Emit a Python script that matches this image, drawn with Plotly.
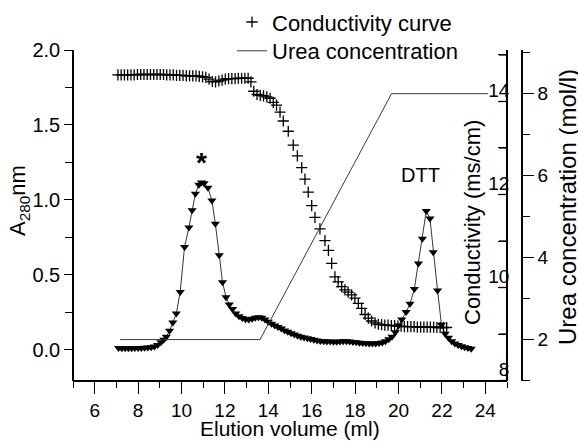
import plotly.graph_objects as go

# ---- A280 absorbance (elution profile) ----
a280_ml = [7.10, 7.25, 7.40, 7.55, 7.70, 7.85, 8.00, 8.15, 8.30, 8.45, 8.60, 8.75, 8.90,
           9.05, 9.18, 9.30, 9.45, 9.60, 9.76, 9.94, 10.14, 10.34, 10.49, 10.64, 10.80,
           10.92, 11.04, 11.22, 11.40, 11.56, 11.74, 11.89, 12.05, 12.20, 12.35, 12.50,
           12.65, 12.80, 12.95, 13.10, 13.25, 13.40, 13.55, 13.70, 13.85, 14.00, 14.15,
           14.30, 14.45, 14.60, 14.75, 14.90, 15.05, 15.20, 15.35, 15.50, 15.65, 15.80,
           15.95, 16.10, 16.25, 16.40, 16.55, 16.70, 16.85, 17.00, 17.15, 17.30, 17.45,
           17.60, 17.75, 17.90, 18.05, 18.20, 18.35, 18.50, 18.65, 18.80, 18.95, 19.10,
           19.25, 19.40, 19.55, 19.70, 19.85, 20.00, 20.15, 20.35, 20.53, 20.73, 20.92,
           21.10, 21.28, 21.45, 21.60, 21.80, 21.98, 22.15, 22.30, 22.45, 22.60, 22.75,
           22.90, 23.05, 23.20, 23.35]
a280_abs = [0.010, 0.008, 0.008, 0.008, 0.009, 0.010, 0.010, 0.011, 0.012, 0.013, 0.015,
            0.020, 0.030, 0.048, 0.065, 0.085, 0.125, 0.180, 0.240, 0.385, 0.685, 0.815,
            0.930, 1.040, 1.100, 1.115, 1.110, 1.080, 0.995, 0.840, 0.630, 0.450, 0.350,
            0.300, 0.270, 0.240, 0.222, 0.210, 0.203, 0.200, 0.205, 0.212, 0.216, 0.212,
            0.200, 0.185, 0.172, 0.160, 0.150, 0.140, 0.128, 0.118, 0.108, 0.100, 0.092,
            0.085, 0.080, 0.075, 0.070, 0.065, 0.060, 0.057, 0.055, 0.054, 0.053, 0.052,
            0.052, 0.053, 0.055, 0.055, 0.053, 0.050, 0.048, 0.046, 0.044, 0.042, 0.040,
            0.040, 0.041, 0.043, 0.047, 0.055, 0.068, 0.085, 0.115, 0.160, 0.200, 0.250,
            0.305, 0.405, 0.575, 0.740, 0.925, 0.875, 0.650, 0.395, 0.165, 0.105, 0.078,
            0.055, 0.040, 0.030, 0.022, 0.015, 0.010, 0.005]

# ---- Conductivity (ms/cm) ----
cond_ml = [7.07, 7.22, 7.37, 7.52, 7.67, 7.82, 7.97, 8.12, 8.27, 8.42, 8.57, 8.72, 8.87,
           9.02, 9.17, 9.32, 9.47, 9.62, 9.77, 9.92, 10.07, 10.22, 10.37, 10.52, 10.67,
           10.82, 10.97, 11.12, 11.27, 11.42, 11.57, 11.72, 11.87, 12.02, 12.17, 12.32,
           12.47, 12.62, 12.77, 12.92, 13.07, 13.20, 13.33, 13.48, 13.63, 13.78, 13.93,
           14.08, 14.23, 14.38, 14.54, 14.69, 14.92, 15.15, 15.34, 15.54, 15.69, 15.84,
           16.00, 16.15, 16.38, 16.61, 16.77, 16.92, 17.07, 17.22, 17.38, 17.53, 17.68,
           17.84, 17.99, 18.15, 18.30, 18.46, 18.61, 18.76, 18.92, 19.07, 19.22, 19.37,
           19.52, 19.67, 19.82, 19.97, 20.12, 20.27, 20.42, 20.57, 20.72, 20.87, 21.02,
           21.17, 21.32, 21.47, 21.62, 21.77, 21.92, 22.07, 22.22]
cond_val = [14.57, 14.57, 14.57, 14.57, 14.57, 14.57, 14.58, 14.58, 14.58, 14.58, 14.58,
            14.58, 14.58, 14.58, 14.58, 14.57, 14.57, 14.57, 14.56, 14.56, 14.56, 14.55,
            14.55, 14.55, 14.55, 14.54, 14.53, 14.52, 14.48, 14.43, 14.42, 14.44, 14.46,
            14.48, 14.49, 14.49, 14.49, 14.50, 14.50, 14.50, 14.50, 14.42, 14.22, 14.15,
            14.13, 14.12, 14.10, 14.07, 13.98, 13.92, 13.77, 13.58, 13.36, 13.06, 12.83,
            12.58, 12.33, 12.05, 11.76, 11.51, 11.26, 11.01, 10.80, 10.52, 10.23, 10.12,
            10.02, 9.95, 9.90, 9.84, 9.77, 9.66, 9.55, 9.42, 9.34, 9.28, 9.24, 9.21, 9.20,
            9.19, 9.19, 9.18, 9.18, 9.17, 9.17, 9.16, 9.16, 9.16, 9.16, 9.15, 9.15, 9.15,
            9.15, 9.15, 9.15, 9.14, 9.14, 9.14, 9.14]

# ---- Urea gradient (mol/l) ----
urea_ml = [7.17, 13.62, 19.68, 24.13]
urea_val = [2.0, 2.0, 8.0, 8.0]

# ---- axis ticks / labels ----
a280_ticks = [0.0, 0.5, 1.0, 1.5, 2.0]
vol_ticks = [6, 8, 10, 12, 14, 16, 18, 20, 22, 24]
cond_ticks = [8, 9, 10, 11, 12, 13, 14, 15]
cond_labels = ["8", "", "10", "", "12", "", "14", ""]
urea_ticks = [2, 4, 6, 8]

FONT = "Liberation Sans, Arial, sans-serif"
BLACK = "#000000"
PLOT_W = 449                 # paper width in px (73..522)
X_DOMAIN_END = 434 / PLOT_W  # plot frame ends at 507 px, urea axis at 522 px
COND_TICKLEN = 8
X_RANGE = [5, 25]
Y_RANGE = [-0.21, 2.0]

fig = go.Figure()

fig.add_trace(go.Scatter(
    x=urea_ml, y=urea_val, yaxis="y4", mode="lines", name="Urea concentration",
    line=dict(color="#3a3a3a", width=1), legend="legend2"))

fig.add_trace(go.Scatter(
    x=cond_ml, y=cond_val, yaxis="y2", mode="markers", name="Conductivity curve",
    marker=dict(symbol="cross-thin", size=8, line=dict(color=BLACK, width=1.3), color=BLACK),
    legend="legend"))

fig.add_trace(go.Scatter(
    x=a280_ml, y=a280_abs, yaxis="y", mode="lines+markers", name="A280",
    line=dict(color=BLACK, width=0.8),
    marker=dict(symbol="triangle-down", size=8, color=BLACK), showlegend=False))

tk = dict(tickcolor=BLACK, tickwidth=1.3)
ln = dict(showline=True, linecolor=BLACK, linewidth=1.5, showgrid=False, zeroline=False,
          layer="above traces")

# plot frame (left, bottom, right) and inward conductivity ticks as shapes
frame_style = dict(color=BLACK, width=1.5)
shapes = [
    dict(type="line", xref="paper", yref="paper", x0=0, x1=0, y0=0, y1=1, line=frame_style),
    dict(type="line", xref="paper", yref="paper", x0=0, x1=X_DOMAIN_END, y0=0, y1=0, line=frame_style),
    dict(type="line", xref="paper", yref="paper", x0=X_DOMAIN_END, x1=X_DOMAIN_END, y0=0, y1=1,
         line=frame_style),
]
for t in cond_ticks:
    shapes.append(dict(type="line", xref="paper", yref="y2",
                       x0=X_DOMAIN_END - COND_TICKLEN / PLOT_W, x1=X_DOMAIN_END, y0=t, y1=t,
                       line=dict(color=BLACK, width=1.3)))

fig.update_layout(
    width=578, height=441,
    margin=dict(l=73, r=56, t=50, b=60, autoexpand=False),
    paper_bgcolor="white", plot_bgcolor="rgba(0,0,0,0)",
    font=dict(family=FONT, color=BLACK, size=19),
    xaxis=dict(domain=[0, X_DOMAIN_END], range=X_RANGE, tickvals=vol_ticks,
               anchor="free", position=0, **ln,
               ticks="outside", ticklen=12, **tk,
               minor=dict(dtick=1, tick0=1, ticks="outside", ticklen=6, **tk),
               tickfont=dict(size=19, color=BLACK)),
    yaxis=dict(range=Y_RANGE, tickvals=a280_ticks, tickformat=".1f",
               anchor="free", position=0, side="left", **ln,
               ticks="outside", ticklen=8, **tk,
               minor=dict(dtick=0.25, tick0=0, ticks="outside", ticklen=7, **tk),
               tickfont=dict(size=20, color=BLACK)),
    # conductivity axis: on the right edge of the frame, ticks and labels pointing inward
    yaxis2=dict(overlaying="y", side="left", anchor="free", position=X_DOMAIN_END,
                range=[7.99, 15.107], **ln,
                tickvals=cond_ticks, ticktext=cond_labels, ticks="outside",
                ticklen=COND_TICKLEN, **tk,
                ticklabelshift=-11, ticklabelstandoff=-15,
                tickfont=dict(size=19, color=BLACK)),
    yaxis4=dict(overlaying="y", side="right", anchor="free", position=1.0,
                range=[0.99, 9.065], tickvals=urea_ticks, **ln,
                ticks="outside", ticklen=11, **tk,
                minor=dict(dtick=1, tick0=1, ticks="outside", ticklen=7, **tk),
                tickfont=dict(size=19, color=BLACK)),
    shapes=shapes,
    legend=dict(x=(232 - 73) / 449, y=(381 - 1.2) / 331, xanchor="left", yanchor="top",
                font=dict(size=22, family=FONT, color=BLACK), itemwidth=30,
                bgcolor="rgba(0,0,0,0)"),
    legend2=dict(x=(232 - 73) / 449, y=(381 - 30) / 331, xanchor="left", yanchor="top",
                 font=dict(size=22, family=FONT, color=BLACK), itemwidth=30,
                 bgcolor="rgba(0,0,0,0)"),
    annotations=[
        dict(text="Elution volume (ml)", xref="paper", yref="paper", x=(290 - 73) / 449,
             y=(381 - 428) / 331, showarrow=False, font=dict(size=21), xanchor="center", yanchor="middle"),
        dict(text="A<sub>280</sub>nm", xref="paper", yref="paper", x=(19 - 73) / 449,
             y=(381 - 201) / 331, showarrow=False, textangle=-90, font=dict(size=22),
             xanchor="center", yanchor="middle"),
        dict(text="Conductivity (ms/cm)", xref="paper", yref="paper", x=(472 - 73) / 449,
             y=(381 - 223) / 331, showarrow=False, textangle=-90, font=dict(size=22),
             xanchor="center", yanchor="middle"),
        dict(text="Urea concentration (mol/l)", xref="paper", yref="paper", x=(567 - 73) / 449,
             y=(381 - 207) / 331, showarrow=False, textangle=-90, font=dict(size=24),
             xanchor="center", yanchor="middle"),
        dict(text="<b>*</b>", xref="x", yref="y", x=10.9, y=1.25, showarrow=False,
             font=dict(size=28)),
        dict(text="DTT", xref="x", yref="y", x=21.0, y=1.164, showarrow=False,
             font=dict(size=20)),
    ],
)

fig.write_html("out.html")
